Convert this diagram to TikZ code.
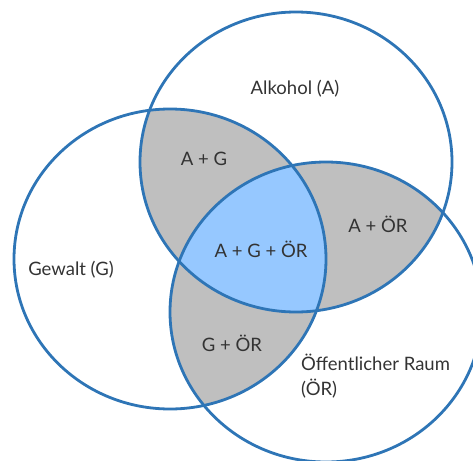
\documentclass[tikz,border=0pt]{standalone}
\usepackage{fontspec}
\setmainfont{Lato}
\usetikzlibrary{positioning}
\definecolor{ringblue}{RGB}{46,117,182}
\definecolor{overlapgray}{RGB}{191,191,191}
\definecolor{coreblue}{RGB}{150,200,255}
\tikzset{
	ring/.style={draw=ringblue,
		line width=2.8pt,
		},
	setlabel/.style={font=\fontsize{18.5}{25}\selectfont,
		text=black!80,
		inner sep=0pt,
		},
	rings/.style={x radius=156pt, y radius=150pt},
}
\begin{document}
\begin{tikzpicture}[x=1pt, y=-1pt]
   \useasboundingbox (0,0) rectangle (473,460);
   
   \coordinate (alkohol) at (296,162);
   \coordinate (gewalt) at (170,259);
   \coordinate (raum) at (326,312);
   
   % pairwise overlaps
   \begin{scope}
    \clip (alkohol) ellipse [rings];
    \fill[overlapgray] (gewalt) ellipse [rings];
    \fill[overlapgray] (raum) ellipse [rings];
   \end{scope}
   \begin{scope}
    \clip (gewalt) ellipse [rings];
    \fill[overlapgray] (raum) ellipse [rings];
   \end{scope}
   
   % all three
   \begin{scope}
    \clip (alkohol) ellipse [rings];
    \clip (gewalt) ellipse [rings];
    \fill[coreblue] (raum) ellipse [rings];
   \end{scope}
   
   \draw[ring] (alkohol) ellipse [rings];
   \draw[ring] (gewalt) ellipse [rings];
   \draw[ring] (raum) ellipse [rings];
   
   \node[setlabel] (labA) at (295,89) {Alkohol (A)};
   \node[setlabel] (labG) at (71,270) {Gewalt (G)};
   \node[setlabel, align=left, anchor=west] (labOR) at (301,376) {Öffentlicher Raum\\(ÖR)};
   \node[setlabel] (labAG) at (204,159) {A + G};
   \node[setlabel] (labAOR) at (378,224) {A + ÖR};
   \node[setlabel] (labGOR) at (232,343) {G + ÖR};
   \node[setlabel] (labAGOR) at (261,249) {A + G + ÖR};
\end{tikzpicture}
\end{document}
